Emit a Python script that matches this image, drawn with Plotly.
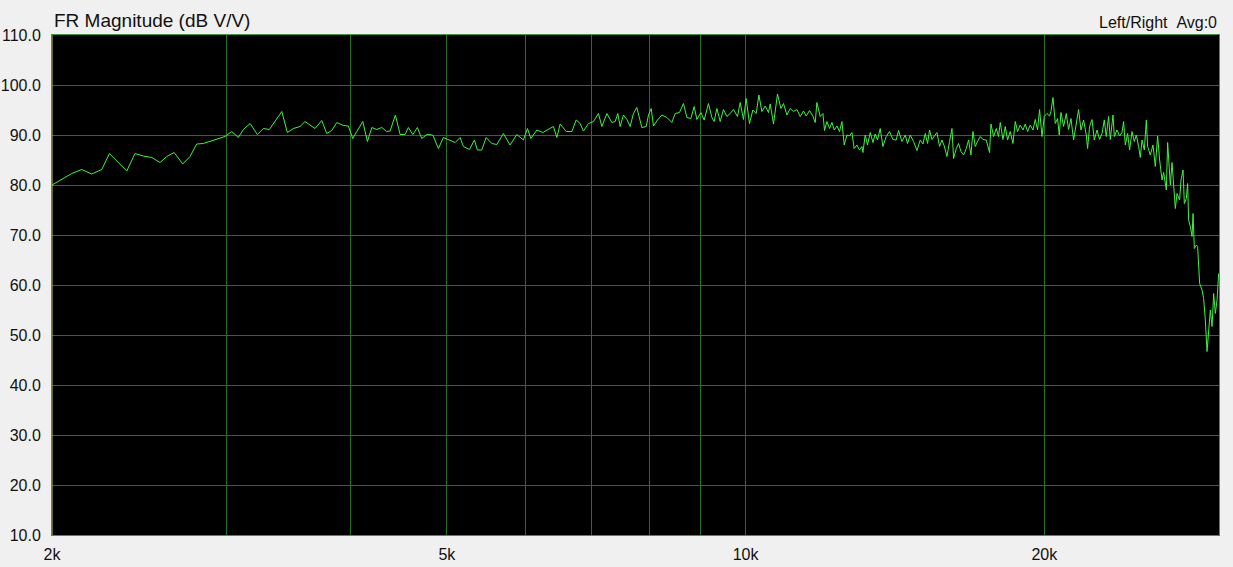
import math
import plotly.graph_objects as go

# Frequency (Hz) and magnitude (dB V/V)
freq_hz = [
    2000, 2037, 2094, 2143, 2193, 2245, 2285, 2379, 2425, 2472, 2521, 2570, 2610, 2655,
    2709, 2755, 2798, 2842, 2886, 2942, 2988, 3035, 3082, 3118, 3167, 3221, 3266, 3312,
    3409, 3453, 3502, 3556,
    3598, 3682, 3740, 3784, 3828, 3873, 3933, 3978, 4019, 4057, 4114, 4158, 4201, 4249,
    4299, 4349, 4383, 4437, 4486, 4538, 4573, 4620, 4669, 4717, 4773, 4839, 4903, 4960,
    5030, 5097, 5156, 5196, 5269, 5330, 5367, 5422, 5477, 5550, 5614, 5701, 5790, 5881,
    5972, 6028, 6076, 6161, 6247, 6329,
    6403, 6454, 6503, 6595, 6683, 6750, 6812, 6865, 6945, 7026, 7108, 7164, 7248, 7332,
    7389, 7435, 7475, 7532, 7592, 7650, 7709, 7770, 7861, 7940, 7983, 8033, 8076, 8151,
    8235, 8331, 8428, 8493, 8578, 8658, 8727, 8808, 8876, 8932, 9015, 9084, 9175, 9248,
    9297, 9356, 9428, 9500, 9576, 9649, 9723, 9814, 9876, 9952, 10014, 10091, 10171,
    10250, 10314, 10386, 10466, 10546, 10588, 10670, 10769, 10854, 10920, 11007, 11091,
    11177, 11265, 11352,
    11439, 11511, 11599, 11691, 11754, 11800, 11891, 11966, 12010, 12078, 12151, 12219,
    12284, 12361, 12436, 12506, 12572, 12652, 12728, 12799, 12867, 12948, 13027, 13100,
    13130, 13200, 13271, 13355, 13439, 13510, 13582, 13668, 13754, 13860, 13967, 14077,
    14185, 14261, 14374, 14484, 14562, 14654, 14767, 14884, 14998, 15093, 15174, 15255,
    15326, 15411, 15494, 15591, 15686, 15773, 15858, 15957, 16054, 16144, 16204, 16306,
    16393, 16485, 16585, 16689, 16779, 16871, 16949, 17040, 17131, 17239, 17347, 17481,
    17615, 17673, 17780, 17892, 17987, 18058, 18172, 18269, 18367, 18482, 18598, 18698,
    18798, 18916, 19035, 19137, 19240, 19360, 19482, 19586, 19691, 19783, 19894, 20000,
    20126, 20248,
    20313, 20408, 20517, 20627, 20709, 20790, 20917, 21048, 21161, 21279, 21408, 21542,
    21658, 21778, 21910, 22048, 22115, 22218, 22342, 22462, 22603, 22740, 22867, 22989,
    23096, 23220, 23312, 23459, 23529, 23677, 23821, 23954, 24043, 24138, 24267, 24380,
    24516, 24647, 24762, 24895, 24993, 25092, 25227, 25344, 25420, 25580, 25741, 25879,
    26018, 26139, 26285, 26383, 26549, 26629, 26796, 26902, 27002, 27109, 27216, 27381,
    27470, 27598, 27681, 27810, 27894, 27959, 28070, 28181, 28246, 28331, 28463, 28549,
    28682, 28842, 28950, 29064, 29179, 29288, 29404, 29520, 29630, 29746, 29864, 29975,
]

magnitude_db = [
    80.0, 80.9, 82.3, 83.1, 82.2, 83.1, 86.3, 82.8, 86.3, 85.8, 85.5, 84.5, 85.7, 86.5,
    84.2, 85.7, 88.2, 88.3, 88.7, 89.3, 89.7, 90.7, 89.5, 91.1, 92.3, 90.1, 91.3, 91.1,
    94.7, 90.5, 91.3, 91.7,
    92.7, 91.3, 92.9, 90.3, 90.9, 92.5, 91.9, 91.8, 89.3, 90.7, 92.7, 88.7, 91.5, 91.1,
    91.5, 90.7, 90.8, 94.0, 90.1, 90.1, 91.5, 90.1, 91.5, 89.3, 90.1, 90.0, 87.3, 89.5,
    89.0, 88.5, 89.5, 87.7, 87.1, 89.0, 87.0, 87.0, 89.5, 88.3, 88.1, 90.3, 88.0, 90.1,
    89.0, 91.3, 89.3, 91.0, 90.5, 91.1,
    91.7, 89.5, 92.2, 90.7, 90.7, 93.0, 92.3, 90.8, 92.3, 92.7, 94.3, 91.7, 94.3, 92.5,
    92.7, 94.3, 91.7, 94.0, 93.1, 91.7, 94.3, 95.5, 91.5, 91.7, 94.0, 95.3, 91.8, 93.0,
    94.0, 93.5, 92.5, 94.3, 94.5, 96.3, 93.5, 93.3, 95.7, 93.1, 94.5, 93.0, 96.3, 93.5,
    92.7, 95.3, 92.7, 95.1, 93.7, 94.3, 95.1, 93.7, 96.5, 93.1, 97.3, 92.3, 95.0,
    94.3, 98.0, 94.7, 95.8, 94.5, 96.2, 92.2, 98.2, 95.3, 96.3, 94.0, 95.3,
    94.7, 95.1, 93.7,
    94.8, 93.8, 94.9, 93.8, 92.5, 96.5, 93.7, 94.3, 90.9, 92.7, 91.3, 92.5,
    91.0, 91.8, 90.7, 92.7, 88.0, 90.0, 89.8, 90.5, 87.3, 88.0, 87.0, 87.7,
    86.5, 90.0, 88.0, 90.5, 88.5, 90.2, 89.0, 91.3, 87.7, 89.7, 90.7, 89.1,
    89.0, 90.9, 88.7, 90.0, 88.3, 90.0, 88.7, 86.9, 89.0, 88.2, 90.3, 88.3,
    91.0, 89.1, 89.7, 90.5, 87.7, 89.0, 87.8, 85.7, 88.7, 91.3, 85.3, 87.3,
    88.3, 86.7, 86.0, 87.3, 89.0, 86.0, 90.7, 87.7, 88.7, 89.7, 89.1, 89.0,
    86.5, 92.2, 89.7, 91.3, 89.7, 92.5, 89.1, 91.7, 89.0, 90.7, 88.3, 92.7,
    90.7, 92.0, 91.0, 92.2, 90.7, 92.0, 91.0, 93.1, 91.0, 95.1, 89.7, 93.7,
    94.3, 93.8,
    94.7, 97.5, 92.3, 93.3, 90.0, 94.5, 91.7, 94.3, 91.1, 93.3, 89.0, 92.3,
    95.1, 91.0, 93.0, 90.0, 87.3, 91.7, 93.1, 89.0, 91.0, 89.1, 90.3, 93.0,
    89.7, 93.7, 89.1, 94.0, 89.7, 91.0, 89.8, 90.5, 92.7, 88.0, 90.3, 87.0,
    90.7, 88.7, 90.0, 87.7, 85.5, 89.0, 87.0, 93.0, 87.7, 86.0, 88.0, 83.7,
    89.8, 85.0, 81.0, 82.5, 79.0, 88.5, 80.0, 84.5, 79.7, 75.3, 78.3, 77.0,
    81.0, 83.0, 76.3, 77.3, 80.3, 73.0, 71.7, 69.7, 74.3, 67.3, 68.0, 67.7,
    60.3, 59.0, 57.3, 53.0, 46.7, 50.3, 55.0, 51.7, 58.3, 54.3, 57.0, 62.3,
]

x_tick_vals = [2000, 3000, 4000, 5000, 6000, 7000, 8000, 9000, 10000, 20000]
x_tick_text = ["2k", "", "", "5k", "", "", "", "", "10k", "20k"]
y_tick_vals = [10, 20, 30, 40, 50, 60, 70, 80, 90, 100, 110]
y_tick_text = ["10.0", "20.0", "30.0", "40.0", "50.0", "60.0", "70.0", "80.0", "90.0", "100.0", "110.0"]

title_text = "FR Magnitude (dB V/V)"
status_text = "Left/Right\u00a0\u00a0Avg:0"

FONT = "Liberation Sans, Arial, sans-serif"
GRID = "#1f741f"
BORDER = "#3c9a3c"

fig = go.Figure()
fig.add_trace(go.Scatter(
    x=freq_hz, y=magnitude_db, mode="lines",
    line=dict(color="#3cf53c", width=1),
    hoverinfo="skip", showlegend=False,
))

fig.add_shape(type="line", xref="x", yref="paper", x0=2000, x1=2000, y0=0, y1=1,
              line=dict(color="#c8c84a", width=1), layer="above")

fig.update_layout(
    width=1233, height=567,
    margin=dict(l=52, r=14, t=35, b=32, autoexpand=False),
    paper_bgcolor="#f0f0f0",
    plot_bgcolor="#000000",
    font=dict(family=FONT, size=16, color="#111111"),
    showlegend=False,
    hovermode=False,
    annotations=[
        dict(text=title_text, xref="paper", yref="paper", x=0.0, y=1.004,
             xanchor="left", yanchor="bottom", showarrow=False,
             font=dict(family=FONT, size=19, color="#111111")),
        dict(text=status_text, xref="paper", yref="paper", x=1.0, y=1.004,
             xanchor="right", yanchor="bottom", showarrow=False,
             font=dict(family=FONT, size=16, color="#111111")),
    ],
)

fig.update_xaxes(
    type="log", range=[math.log10(2000), math.log10(30000)],
    tickmode="array", tickvals=x_tick_vals, ticktext=x_tick_text,
    showgrid=True, gridcolor=GRID, gridwidth=1,
    showline=True, linecolor=BORDER, linewidth=1, mirror=True,
    ticks="", ticklabelstandoff=5, tickfont=dict(family=FONT, size=16, color="#111111"),
    zeroline=False, fixedrange=True, showspikes=False, automargin=False,
)
fig.update_yaxes(
    range=[10, 110],
    tickmode="array", tickvals=y_tick_vals, ticktext=y_tick_text,
    showgrid=True, gridcolor=GRID, gridwidth=1,
    showline=True, linecolor=BORDER, linewidth=1, mirror=True,
    ticks="", ticklen=0, ticklabelstandoff=7, tickfont=dict(family=FONT, size=16, color="#111111"),
    zeroline=False, fixedrange=True, showspikes=False, automargin=False,
)

page_css = (
    "document.body.style.margin='0';"
    "document.body.style.padding='0';"
    "document.body.style.background='#f0f0f0';"
    "document.body.style.overflow='hidden';"
)

fig.write_html("out.html", config={"displayModeBar": False, "staticPlot": True},
               post_script=page_css)
